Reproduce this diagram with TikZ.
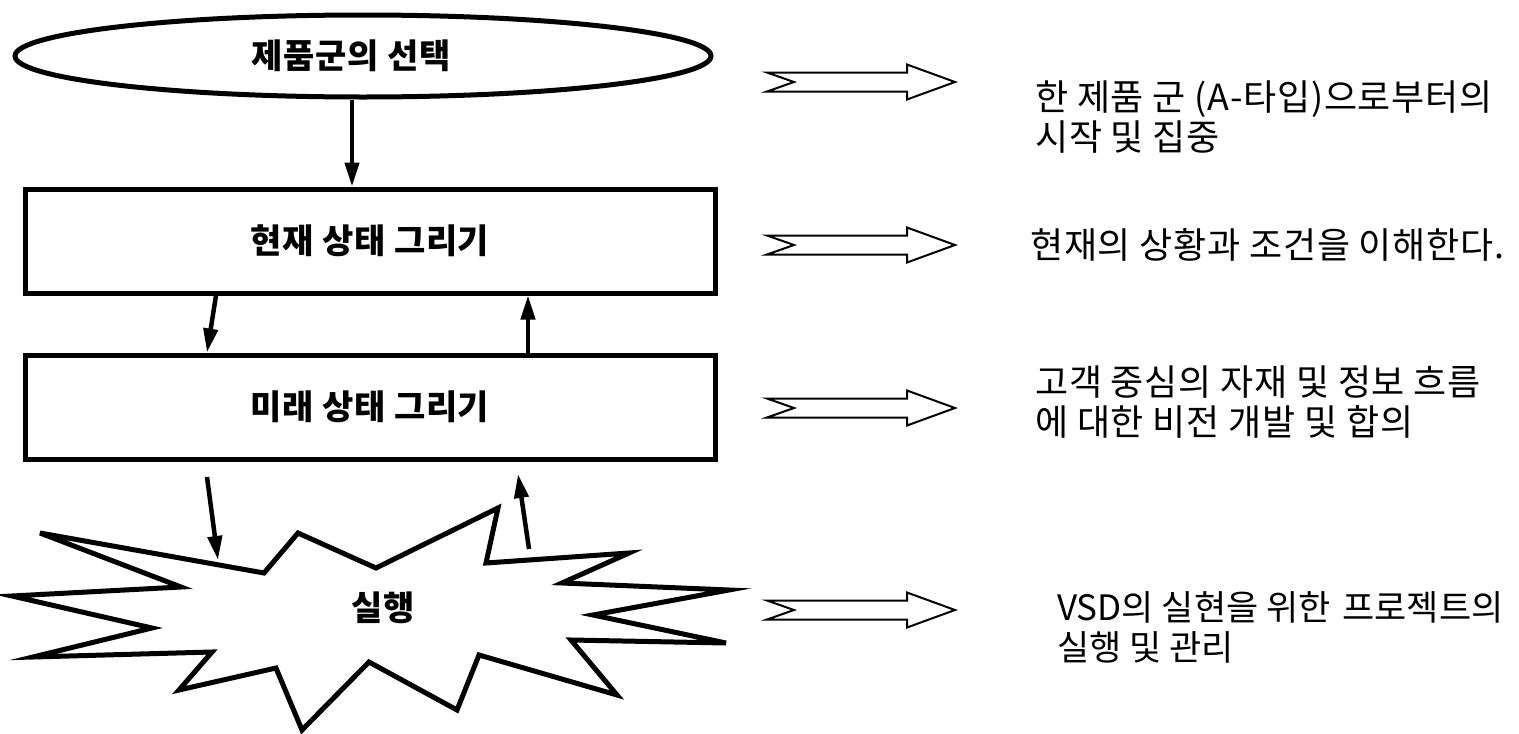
\documentclass[tikz,border=0pt]{standalone}
\usepackage{fontspec}
\setmainfont{Noto Sans CJK KR}
\newfontfamily\krtext{Noto Sans CJK KR}[LetterSpace=2]
\newfontfamily\krtight{Noto Sans CJK KR}[LetterSpace=0]
\newfontfamily\krbold{Noto Sans CJK KR}[LetterSpace=2]
\usetikzlibrary{shapes.geometric,arrows.meta}
\begin{document}
\begin{tikzpicture}[x=1pt,y=-1pt,
  lbl/.style={font=\krbold\bfseries\fontsize{34}{40}\selectfont},
  stagebox/.style={draw, line width=5pt, minimum width=690pt, minimum height=104pt, inner sep=0pt, lbl},
  oval/.style={draw, ellipse, line width=5pt, minimum width=696pt, minimum height=82pt, inner sep=0pt, lbl},
  arr/.style={line width=4.5pt, -{Triangle[length=24pt,width=14pt]}},
  hollow/.style={draw, line width=2pt, fill=white, line join=miter},
  desc/.style={anchor=west, align=left, inner sep=0pt, font=\krtext\fontsize{36}{40}\selectfont},
  burst/.style={draw, line width=5pt, line join=miter, fill=white}
]
\useasboundingbox (0,0) rectangle (1519,734);

% nodes on the left
\node[oval] (sel) at (363,56) {\hspace*{-24pt}제품군의 선택};
\node[stagebox] (cur) at (370,241) {현재 상태 그리기};
\node[stagebox] (fut) at (370,407) {미래 상태 그리기};

% explosion
\draw[burst] (40,533) -- (264,573) -- (298,533) -- (376,568) -- (498,508) -- (486,563)
  -- (629,553) -- (562,583) -- (729,590) -- (593,615) -- (726,643) -- (571,640)
  -- (617,695) -- (479,655) -- (457,710) -- (369,662) -- (302,730) -- (276,668)
  -- (179,690) -- (212,652) -- (33,657) -- (152,628) -- (12,596) -- (181,587) -- cycle;
\node[lbl, inner sep=0pt] (exe) at (383,608) {실행};

% connectors
\draw[arr] ([xshift=-11pt]sel.south) -- ([xshift=-11pt]sel.south |- cur.north);
\draw[arr] ([xshift=-154pt]cur.south) -- ([xshift=-163pt]fut.north);
\draw[arr] ([xshift=158pt]fut.north) -- ([xshift=158pt]cur.south);
\coordinate (d1s) at (207,477);
\coordinate (d1e) at (218,560);
\coordinate (u1s) at (529,549);
\coordinate (u1e) at (518,474);
\draw[arr] (d1s) -- (d1e);
\draw[arr] (u1s) -- (u1e);

% hollow arrows
\foreach \yy in {82,245,408,610} {
  \draw[hollow, shift={(767,\yy)}] (0,-9.5) -- (140,-9.5) -- (140,-17.5) -- (188,0)
    -- (140,17.5) -- (140,9.5) -- (0,9.5) -- (27,0) -- cycle;
}

% descriptions
\node[desc] (t1) at (1035,117) {한 제품 군 (A-타입)으로부터의\\시작 및 집중};
\node[desc] (t2) at (1030,245) {현재의 상황과 조건을 이해한다.};
\node[desc] (t3) at (1035,402) {고객 중심의 자재 및 정보 흐름\\에 대한 비전 개발 및 합의};
\node[desc, font=\krtight\fontsize{35}{40}\selectfont] (t4) at (1057,627) {VSD의 실현을 위한 \hspace{4pt}프로젝트의\\실행 및 관리};
\end{tikzpicture}
\end{document}
